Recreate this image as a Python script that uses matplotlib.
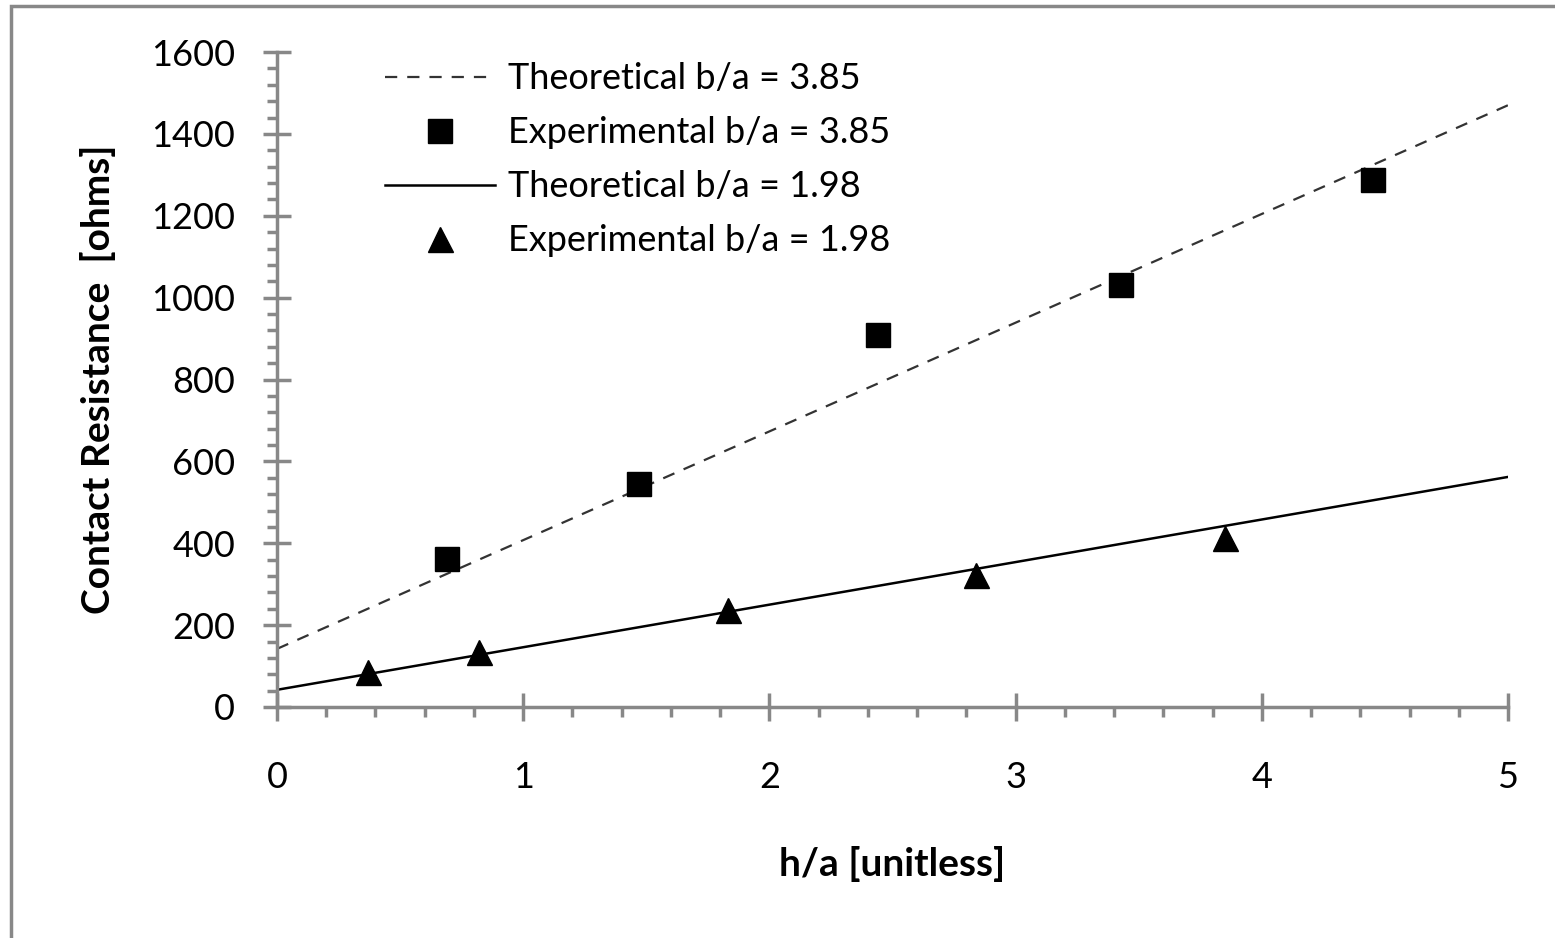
import matplotlib
matplotlib.use("Agg")
import matplotlib.pyplot as plt
from matplotlib.ticker import MultipleLocator
from matplotlib.patches import Rectangle

# data
theory_x = [0, 5]
theory_385 = [142, 1470]
theory_198 = [42, 562]

exp_385_x = [0.69, 1.47, 2.44, 3.43, 4.45]
exp_385_y = [361, 545, 909, 1031, 1287]

exp_198_x = [0.37, 0.82, 1.83, 2.84, 3.85]
exp_198_y = [85, 135, 237, 322, 413]

plt.rcParams['font.family'] = ['Lato', 'DejaVu Sans']
grey = '#888888'

fig = plt.figure(figsize=(15.55, 9.38), dpi=100)
# outer chart border (only top and left edges are visible in the crop)
fig.patches.append(Rectangle((11/1555, -0.1), 1.2, 1.1 - 6/938, transform=fig.transFigure,
                             fill=False, edgecolor=grey, linewidth=2.5))
ax = fig.add_axes([277/1555, 1 - 707/938, 1231/1555, 655/938])

ax.plot(theory_x, theory_385, color='#333333', linewidth=1.6, dashes=(5.5, 4.5),
        label='Theoretical b/a = 3.85')
ax.plot(exp_385_x, exp_385_y, linestyle='none', marker='s', markersize=17, color='black',
        label='Experimental b/a = 3.85')
ax.plot(theory_x, theory_198, color='black', linewidth=1.8, label='Theoretical b/a = 1.98')
ax.plot(exp_198_x, exp_198_y, linestyle='none', marker='^', markersize=18, color='black',
        label='Experimental b/a = 1.98')

ax.set_xlim(0, 5)
ax.set_ylim(0, 1600)
ax.xaxis.set_major_locator(MultipleLocator(1))
ax.xaxis.set_minor_locator(MultipleLocator(0.2))
ax.yaxis.set_major_locator(MultipleLocator(200))
ax.yaxis.set_minor_locator(MultipleLocator(40))

for s in ['top', 'right']:
    ax.spines[s].set_visible(False)
for s in ['left', 'bottom']:
    ax.spines[s].set_color(grey)
    ax.spines[s].set_linewidth(2.5)

ax.tick_params(which='major', direction='inout', length=20, width=2.5, color=grey,
               labelsize=26)
ax.tick_params(which='minor', direction='out', length=7, width=2.5, color=grey)
ax.tick_params(axis='x', which='major', pad=29)
ax.tick_params(axis='y', which='major', pad=20)

ax.set_xlabel('h/a [unitless]', fontsize=28, fontweight='bold', labelpad=37)
ax.set_ylabel('Contact Resistance  [ohms]', fontsize=28, fontweight='bold', labelpad=25)

ax.legend(loc='upper left', bbox_to_anchor=(0.0877, 0.984), frameon=False, fontsize=26,
          handlelength=3.05, handletextpad=0.36, labelspacing=0.58, borderpad=0,
          borderaxespad=0)

fig.savefig('out.png', dpi=100)
